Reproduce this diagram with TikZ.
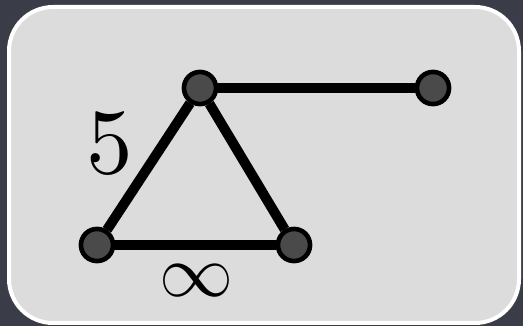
\documentclass[tikz,border=0pt]{standalone}
\usepackage{graphicx}
\begin{document}
\begin{tikzpicture}[x=1pt,y=-1pt,
  vtx/.style={circle,draw=black,line width=4.5pt,fill=vgray,minimum size=32pt,inner sep=0pt},
  edge/.style={line width=10pt,draw=black}]
\definecolor{bgdark}{HTML}{3A3C48}
\definecolor{boxgray}{HTML}{DCDCDC}
\definecolor{vgray}{HTML}{4A4A4A}
\fill[bgdark] (0,0) rectangle (523,326);
\useasboundingbox (0,0) rectangle (523,326);
\draw[white,line width=4pt,fill=boxgray,rounded corners=44pt] (9,7) rectangle (519,323);
\node[vtx] (a) at (200,88) {};
\node[vtx] (b) at (433,88) {};
\node[vtx] (c) at (97,245) {};
\node[vtx] (d) at (294,245) {};
\draw[edge] (a) -- (b);
\draw[edge] (a) -- (c);
\draw[edge] (a) -- (d);
\draw[edge] (c) -- (d);
\node[vtx] at (a) {};
\node[vtx] at (b) {};
\node[vtx] at (c) {};
\node[vtx] at (d) {};
\node (l5) at (110,144) {\scalebox{9.3}{5}};
\node (linf) at (196,281) {\scalebox{7.4}{$\infty$}};
\end{tikzpicture}
\end{document}
